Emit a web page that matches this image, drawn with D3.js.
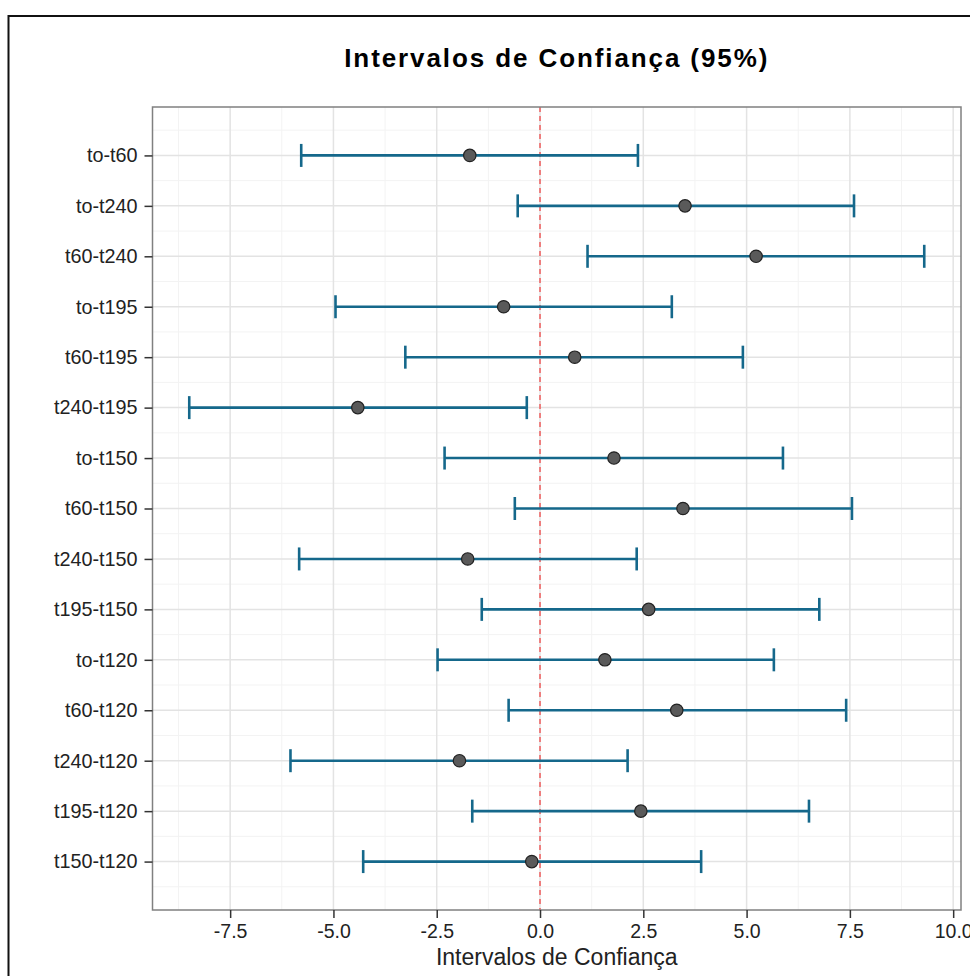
<!DOCTYPE html>
<html>
<head>
<meta charset="utf-8">
<script src="https://cdn.jsdelivr.net/npm/d3@7"></script>
<style>
  body { margin: 0; background: #fff; }
  svg { display: block; }
</style>
</head>
<body>
<svg id="chart"></svg>
<script>
// comparisons (top to bottom) and Tukey intervals
const comparisons = ["to-t60", "to-t240", "t60-t240", "to-t195", "t60-t195", "t240-t195",
  "to-t150", "t60-t150", "t240-t150", "t195-t150", "to-t120", "t60-t120",
  "t240-t120", "t195-t120", "t150-t120"];
const diffs = [-1.70, 3.51, 5.23, -0.88, 0.84, -4.41, 1.79, 3.46, -1.75, 2.63, 1.57, 3.31, -1.95, 2.44, -0.20];
const lower = [-5.78, -0.54, 1.15, -4.95, -3.26, -8.49, -2.31, -0.61, -5.83, -1.41, -2.48, -0.76, -6.04, -1.64, -4.28];
const upper = [2.37, 7.60, 9.30, 3.19, 4.91, -0.32, 5.88, 7.55, 2.34, 6.76, 5.66, 7.41, 2.12, 6.51, 3.90];
const xTicks = [-7.5, -5.0, -2.5, 0.0, 2.5, 5.0, 7.5, 10.0];

const width = 970, height = 976;
const margin = { top: 107, right: 9, bottom: 66, left: 152.5 };
const barColor = "#15688b";
const font = "Liberation Sans, Arial, sans-serif";

const data = comparisons.map((c, i) => ({ name: c, diff: diffs[i], lwr: lower[i], upr: upper[i] }));

const svg = d3.select("#chart").attr("width", width).attr("height", height);

// outer frame
svg.append("rect")
  .attr("x", 8.5).attr("y", 16)
  .attr("width", 1000).attr("height", 1000)
  .attr("fill", "none").attr("stroke", "#111").attr("stroke-width", 2);

const lo = d3.min(lower), hi = d3.max(upper), pad = (hi - lo) * 0.05;
const x = d3.scaleLinear()
  .domain([lo - pad, hi + pad])
  .range([margin.left, width - margin.right]);

const y = d3.scalePoint()
  .domain(comparisons)
  .range([margin.top, height - margin.bottom])
  .padding(0.96);

const step = y.step();
const x0 = margin.left, x1 = width - margin.right;
const y0 = margin.top, y1 = height - margin.bottom;

// minor grid
const minorX = d3.range(xTicks.length + 1).map(i => xTicks[0] - 1.25 + i * 2.5)
  .filter(v => x(v) > x0 && x(v) < x1);
svg.append("g").selectAll("line").data(minorX).join("line")
  .attr("x1", d => x(d)).attr("x2", d => x(d))
  .attr("y1", y0).attr("y2", y1)
  .attr("stroke", "#f3f3f3").attr("stroke-width", 1);
const minorY = comparisons.map(c => y(c) - step / 2).concat([y(comparisons[comparisons.length - 1]) + step / 2]);
svg.append("g").selectAll("line").data(minorY).join("line")
  .attr("x1", x0).attr("x2", x1)
  .attr("y1", d => d).attr("y2", d => d)
  .attr("stroke", "#f3f3f3").attr("stroke-width", 1);

// major grid
svg.append("g").selectAll("line").data(xTicks).join("line")
  .attr("x1", d => x(d)).attr("x2", d => x(d))
  .attr("y1", y0).attr("y2", y1)
  .attr("stroke", "#e3e3e3").attr("stroke-width", 1.5);
svg.append("g").selectAll("line").data(comparisons).join("line")
  .attr("x1", x0).attr("x2", x1)
  .attr("y1", d => y(d)).attr("y2", d => y(d))
  .attr("stroke", "#e3e3e3").attr("stroke-width", 1.5);

// zero reference line
svg.append("line")
  .attr("x1", x(0)).attr("x2", x(0))
  .attr("y1", y0).attr("y2", y1)
  .attr("stroke", "#f03a3a").attr("stroke-width", 1.2)
  .attr("stroke-dasharray", "5,4");

// error bars
const bars = svg.append("g").selectAll("g").data(data).join("g")
  .attr("stroke", barColor).attr("stroke-width", 2.6);
bars.append("line")
  .attr("x1", d => x(d.lwr)).attr("x2", d => x(d.upr))
  .attr("y1", d => y(d.name)).attr("y2", d => y(d.name));
bars.append("line")
  .attr("x1", d => x(d.lwr)).attr("x2", d => x(d.lwr))
  .attr("y1", d => y(d.name) - 11.5).attr("y2", d => y(d.name) + 11.5);
bars.append("line")
  .attr("x1", d => x(d.upr)).attr("x2", d => x(d.upr))
  .attr("y1", d => y(d.name) - 11.5).attr("y2", d => y(d.name) + 11.5);

// points
svg.append("g").selectAll("circle").data(data).join("circle")
  .attr("cx", d => x(d.diff)).attr("cy", d => y(d.name))
  .attr("r", 6.2)
  .attr("fill", "#5a5a5a").attr("stroke", "#222").attr("stroke-width", 1.2);

// panel border
svg.append("rect")
  .attr("x", x0).attr("y", y0)
  .attr("width", x1 - x0).attr("height", y1 - y0)
  .attr("fill", "none").attr("stroke", "#808080").attr("stroke-width", 1.5);

// axes
const xAxis = svg.append("g")
  .attr("transform", `translate(0,${y1})`)
  .call(d3.axisBottom(x).tickValues(xTicks).tickFormat(d => d.toFixed(1)).tickSize(8).tickPadding(6));
xAxis.select(".domain").remove();
xAxis.selectAll(".tick line").attr("stroke", "#333").attr("stroke-width", 1.5);
xAxis.selectAll(".tick text")
  .attr("fill", "#222").attr("font-family", font).attr("font-size", 19.5);

const yAxis = svg.append("g")
  .attr("transform", `translate(${x0},0)`)
  .call(d3.axisLeft(y).tickSize(8).tickPadding(7));
yAxis.select(".domain").remove();
yAxis.selectAll(".tick line").attr("stroke", "#333").attr("stroke-width", 1.5);
yAxis.selectAll(".tick text")
  .attr("fill", "#222").attr("font-family", font).attr("font-size", 19.8);

// titles
const cx = (x0 + x1) / 2;
svg.append("text")
  .attr("x", cx).attr("y", 67)
  .attr("text-anchor", "middle")
  .attr("font-family", font)
  .attr("font-weight", "bold").attr("font-size", 26)
  .attr("letter-spacing", 1.9)
  .attr("fill", "#000")
  .text("Intervalos de Confiança (95%)");

svg.append("text")
  .attr("x", cx).attr("y", 965)
  .attr("text-anchor", "middle")
  .attr("font-family", font)
  .attr("font-size", 23)
  .attr("fill", "#222")
  .text("Intervalos de Confiança");
</script>
</body>
</html>
